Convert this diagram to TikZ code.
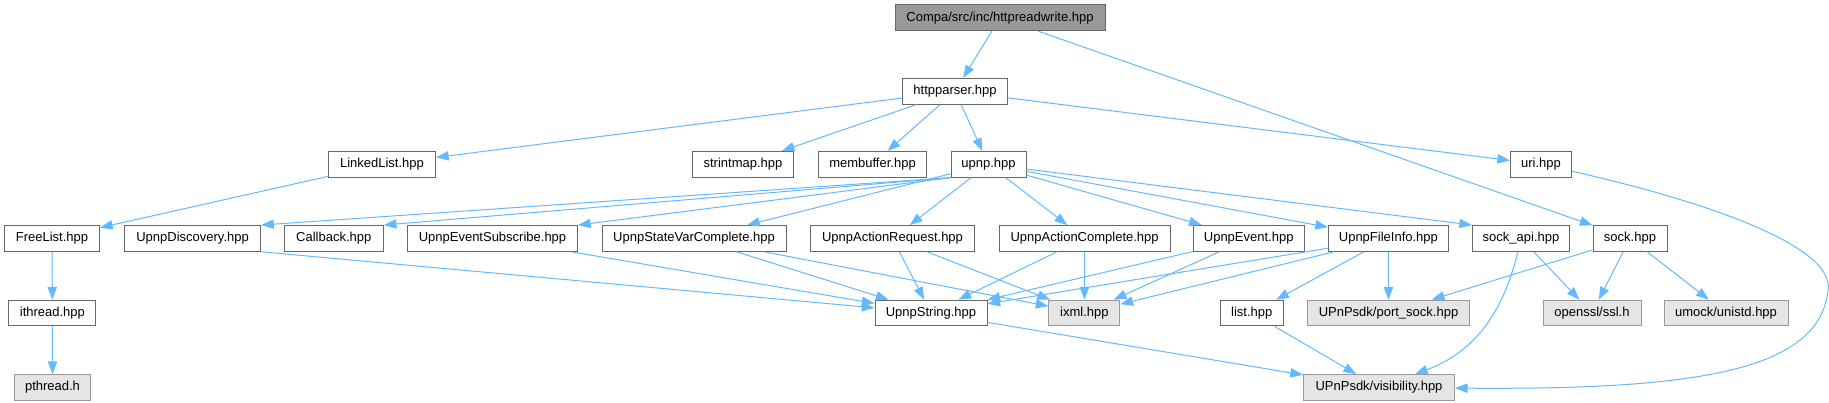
\documentclass[tikz,border=0pt]{standalone}
\usepackage{fontspec}
\setmainfont{Liberation Sans}
\usetikzlibrary{arrows.meta}
\definecolor{edgeblue}{HTML}{63B8FF}
\definecolor{gray40}{HTML}{666666}
\definecolor{gray60}{HTML}{999999}
\definecolor{gray90}{HTML}{E5E5E5}
\begin{document}
\begin{tikzpicture}[x=0.75pt, y=-0.75pt,
  every node/.style={font=\fontsize{9.75}{11}\selectfont},
  incfile/.style={draw=gray40, fill=white, line width=0.75pt, inner sep=0pt,
    minimum height=19.3pt, minimum width=#1*0.75pt},
  sysfile/.style={incfile=#1, draw=gray60, fill=gray90},
  mainfile/.style={incfile=#1, fill=gray60},
  dep/.style={draw=edgeblue, line width=0.75pt, -{Triangle[length=9.5pt, width=7pt]}}]
  \useasboundingbox (0,0) rectangle (1829,403);
  % include graph of httpreadwrite.hpp
  \node[mainfile=210] (top) at (1000,17.8) {Compa/src/inc/httpreadwrite.hpp};
  \node[incfile=105] (parser) at (955,91.3) {httpparser.hpp};
  \node[incfile=107] (linked) at (382,164.3) {LinkedList.hpp};
  \node[incfile=101] (strintmap) at (743,164.3) {strintmap.hpp};
  \node[incfile=108] (membuf) at (872.5,164.3) {membuffer.hpp};
  \node[incfile=75] (upnp) at (988.5,164.3) {upnp.hpp};
  \node[incfile=61] (uri) at (1541,164.3) {uri.hpp};
  \node[incfile=95] (freelist) at (52,238.4) {FreeList.hpp};
  \node[incfile=136] (discovery) at (192.6,238.4) {UpnpDiscovery.hpp};
  \node[incfile=99] (callback) at (333.8,238.4) {Callback.hpp};
  \node[incfile=170] (evsub) at (492.5,238.4) {UpnpEventSubscribe.hpp};
  \node[incfile=184] (statevar) at (694,238.4) {UpnpStateVarComplete.hpp};
  \node[incfile=164] (actreq) at (892.5,238.4) {UpnpActionRequest.hpp};
  \node[incfile=171] (actcomp) at (1084.6,238.4) {UpnpActionComplete.hpp};
  \node[incfile=111] (event) at (1248.7,238.4) {UpnpEvent.hpp};
  \node[incfile=120] (fileinfo) at (1388.4,238.4) {UpnpFileInfo.hpp};
  \node[incfile=97] (sockapi) at (1521,238.4) {sock\_api.hpp};
  \node[incfile=74] (sock) at (1630,238.4) {sock.hpp};
  \node[incfile=87] (ithread) at (52.4,313) {ithread.hpp};
  \node[incfile=112] (upnpstr) at (931,313) {UpnpString.hpp};
  \node[sysfile=71] (ixml) at (1084.4,313) {ixml.hpp};
  \node[incfile=63] (list) at (1251.8,313) {list.hpp};
  \node[sysfile=162] (portsock) at (1388.5,313) {UPnPsdk/port\_sock.hpp};
  \node[sysfile=98] (ssl) at (1592,313) {openssl/ssl.h};
  \node[sysfile=124] (unistd) at (1726,313) {umock/unistd.hpp};
  \node[sysfile=76] (pthread) at (52.5,387.5) {pthread.h};
  \node[sysfile=151] (visib) at (1379,387.5) {UPnPsdk/visibility.hpp};
  % edges
  \draw[dep] (top) -- (parser);
  \draw[dep] (top) -- (sock);
  \draw[dep] (parser) -- (linked);
  \draw[dep] (parser) -- (strintmap);
  \draw[dep] (parser) -- (membuf);
  \draw[dep] (parser) -- (upnp);
  \draw[dep] (parser) -- (uri);
  \draw[dep] (linked) -- (freelist);
  \draw[dep] (freelist) -- (ithread);
  \draw[dep] (ithread) -- (pthread);
  \draw[dep] (uri) .. controls (1700,200) and (1835,245) .. (1828,290)
    .. controls (1820,370) and (1700,390) .. (visib);
  \draw[dep] (upnp.south west) -- (discovery.north east);
  \draw[dep] (upnp.south west) -- (callback.north east);
  \draw[dep] (upnp.south west) -- (evsub.north east);
  \draw[dep] (upnp) -- (statevar);
  \draw[dep] (upnp) -- (actreq);
  \draw[dep] (upnp) -- (actcomp);
  \draw[dep] (upnp) -- (event);
  \draw[dep] (upnp) -- (fileinfo);
  \draw[dep] (upnp) -- (sockapi.north west);
  \draw[dep] (discovery.south east) -- (upnpstr);
  \draw[dep] (evsub) -- (upnpstr);
  \draw[dep] (statevar) -- (upnpstr);
  \draw[dep] (statevar) -- (ixml);
  \draw[dep] (actreq) -- (upnpstr);
  \draw[dep] (actreq) -- (ixml);
  \draw[dep] (actcomp) -- (upnpstr);
  \draw[dep] (actcomp) -- (ixml);
  \draw[dep] (event) -- (upnpstr);
  \draw[dep] (event) -- (ixml);
  \draw[dep] (fileinfo) -- (upnpstr);
  \draw[dep] (fileinfo) -- (ixml);
  \draw[dep] (fileinfo) -- (list);
  \draw[dep] (fileinfo) -- (portsock);
  \draw[dep] (sockapi) -- (ssl);
  \draw[dep] (sockapi) .. controls (1505,305) and (1480,350) .. (visib);
  \draw[dep] (sock) -- (portsock);
  \draw[dep] (sock) -- (ssl);
  \draw[dep] (sock) -- (unistd);
  \draw[dep] (list) -- (visib);
  \draw[dep] (upnpstr) -- (visib);
\end{tikzpicture}
\end{document}
